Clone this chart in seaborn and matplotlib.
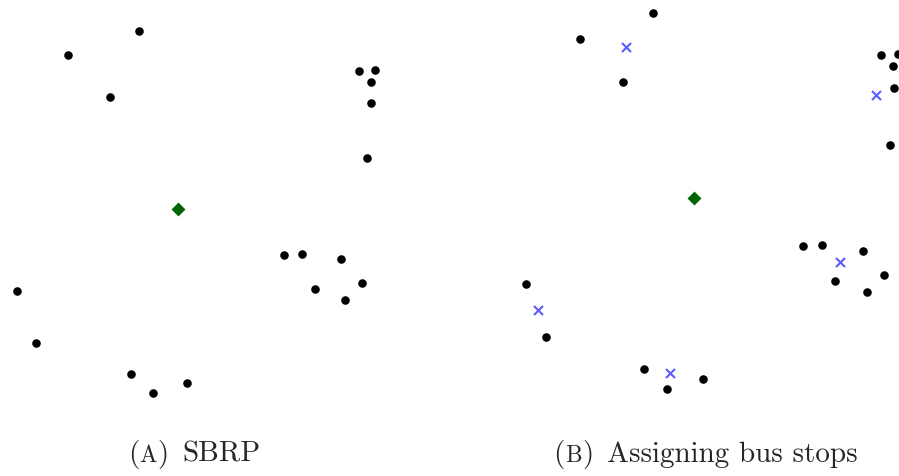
import matplotlib
matplotlib.use('Agg')
import matplotlib.pyplot as plt
import seaborn as sns

# student addresses (image-like units, y grows downward)
addr_x = [139.3, 68.3, 110.0, 359.0, 374.7, 370.7, 371.3, 367.0,
          284.0, 302.3, 341.0, 314.7, 362.0, 345.0,
          17.0, 36.0, 130.7, 152.7, 187.3]
addr_y = [32.0, 56.7, 98.7, 72.0, 71.3, 83.3, 104.0, 159.0,
          256.3, 255.0, 260.7, 290.0, 284.0, 301.0,
          292.7, 344.3, 375.0, 394.0, 384.0]

# school (depot)
school_x = [178.3]
school_y = [210.3]

# bus stops chosen in panel b
stop_x = [113.1, 353.6, 319.5, 28.6, 155.7]
stop_y = [64.3, 110.9, 271.2, 318.0, 378.6]

captions = [('A', 'SBRP'), ('B', 'Assigning bus stops')]

sns.set_style('white')
plt.rcParams['font.family'] = ['cmr10', 'DejaVu Serif']

W, H = 899, 477
fig = plt.figure(figsize=(W / 100, H / 100), dpi=100)

ax1 = fig.add_axes([0, 0, 449 / W, 1])
ax2 = fig.add_axes([449 / W, 0, 450 / W, 1])


def draw_panel(ax, with_stops):
    sns.scatterplot(x=addr_x, y=addr_y, ax=ax, color='black', s=38,
                    linewidth=0, zorder=3)
    sns.scatterplot(x=school_x, y=school_y, ax=ax, color='#006400',
                    marker='D', s=50, linewidth=0, zorder=3)
    if with_stops:
        sns.scatterplot(x=stop_x, y=stop_y, ax=ax, color='#5a5aff',
                        marker='x', s=42, linewidth=1.5, zorder=4)
    ax.set_axis_off()


draw_panel(ax1, False)
ax1.set_xlim(0, 449)
ax1.set_ylim(477.5, 0.5)

draw_panel(ax2, True)
# panel b is drawn slightly zoomed in
k = 1.038
ax2.set_xlim((449 - 508.65) / k, (899 - 508.65) / k)
ax2.set_ylim((477 + 19.0) / k, 19.0 / k)


def caption(cx, letter, rest, size=21, base=15):
    # "(A) text" with a small-cap letter, centred at cx (pixels)
    r = fig.canvas.get_renderer()
    parts = [('(', size, 0), (letter, size * 0.8, 0.5),
             (')', size, 0.5), (rest, size, 13)]
    items = []
    x = 0
    for s, fs, gap in parts:
        t = fig.text(0, base / H, s, fontsize=fs, va='baseline', ha='left')
        w = t.get_window_extent(r).width
        x += gap
        items.append((t, x))
        x += w
    x0 = cx - x / 2
    for t, off in items:
        t.set_x((x0 + off) / W)


caption(194, *captions[0])
caption(705.5, *captions[1])

fig.savefig('out.png', dpi=100)
